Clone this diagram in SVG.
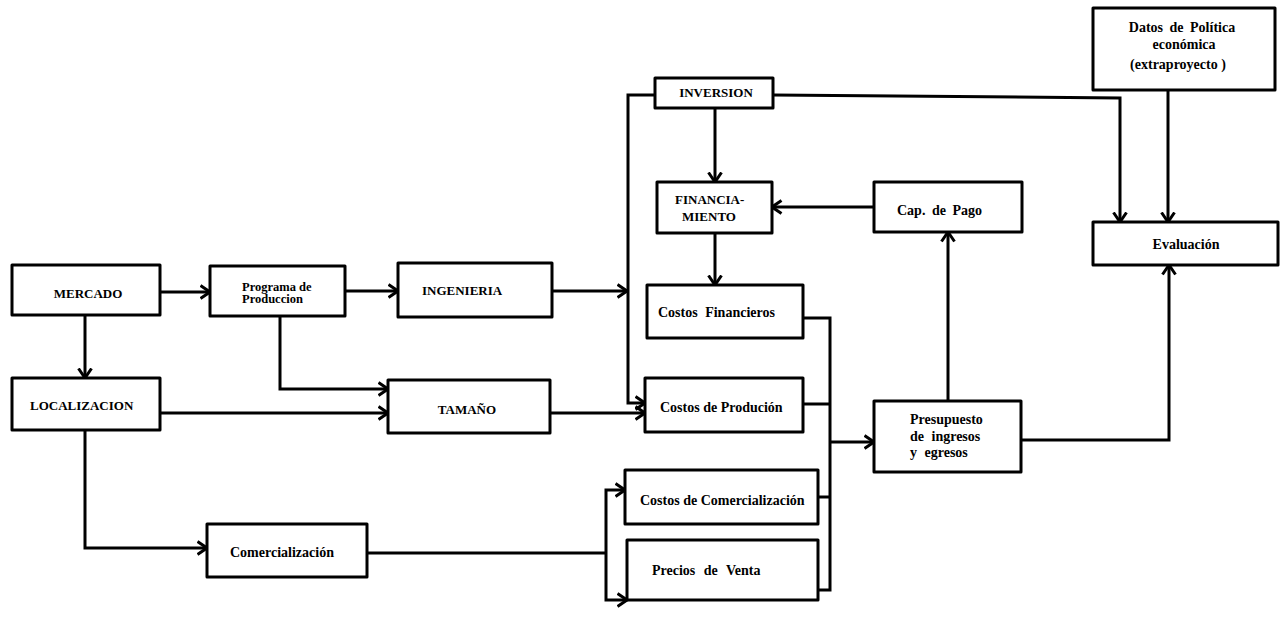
<svg xmlns="http://www.w3.org/2000/svg" width="1281" height="618" viewBox="0 0 1281 618">
<style>
.box{fill:#fff;stroke:#000;stroke-width:3;stroke-linejoin:round}
.ln{fill:none;stroke:#000;stroke-width:3;stroke-linejoin:miter}
.ar{marker-end:url(#a)}
text{font-family:"Liberation Serif","DejaVu Serif",serif;font-weight:bold;fill:#000;font-size:14px}
.up{font-size:13px}
.sm{font-size:12.5px}
</style>
<defs>
<marker id="a" markerUnits="userSpaceOnUse" viewBox="0 0 12 16" refX="10.5" refY="8" markerWidth="12" markerHeight="16" orient="auto">
<path d="M1,1.5 L10.5,8 L1,14.5" fill="none" stroke="#000" stroke-width="3"/>
</marker>
</defs>
<rect width="1281" height="618" fill="#fff"/>
<g id="connectors">
<path class="ln ar" d="M160,292 H210"/>
<path class="ln ar" d="M345,291 H398"/>
<path class="ln ar" d="M85,315 V378"/>
<path class="ln ar" d="M280,316 V389 H388"/>
<path class="ln ar" d="M160,413 H388"/>
<path class="ln ar" d="M552,291 H627"/>
<path class="ln ar" d="M655,95 H628 V403 H645"/>
<path class="ln ar" d="M550,413 H645"/>
<path class="ln ar" d="M715,108 V182"/>
<path class="ln ar" d="M874,207 H772"/>
<path class="ln ar" d="M715,233 V285"/>
<path class="ln" d="M803,318 H830 V590 H818"/>
<path class="ln" d="M803,404 H830"/>
<path class="ln" d="M818,497 H830"/>
<path class="ln ar" d="M830,442 H874"/>
<path class="ln ar" d="M948,401 V232"/>
<path class="ln ar" d="M1021,440 H1169 V265"/>
<path class="ln ar" d="M773,95 L1120,98 V222"/>
<path class="ln ar" d="M1168,90 V222"/>
<path class="ln ar" d="M85,430 V548 H207"/>
<path class="ln" d="M367,553 H606"/>
<path class="ln ar" d="M606,553 V490 H625"/>
<path class="ln ar" d="M606,553 V600 H627"/>
</g>
<g id="mercado"><rect class="box" x="12" y="265" width="148" height="50"/><text class="up" x="88" y="298" text-anchor="middle">MERCADO</text></g>
<g id="programa"><rect class="box" x="210" y="266" width="135" height="50"/><text class="sm" x="242" y="291">Programa de</text><text class="sm" x="242" y="303">Produccion</text></g>
<g id="ingenieria"><rect class="box" x="398" y="263" width="154" height="54"/><text class="up" x="422" y="295">INGENIERIA</text></g>
<g id="localizacion"><rect class="box" x="12" y="378" width="148" height="52"/><text class="up" x="30" y="410">LOCALIZACION</text></g>
<g id="tamano"><rect class="box" x="388" y="380" width="162" height="53"/><text class="up" x="467" y="414" text-anchor="middle">TAMAÑO</text></g>
<g id="comercializacion"><rect class="box" x="207" y="524" width="160" height="53"/><text x="230" y="557">Comercialización</text></g>
<g id="inversion"><rect class="box" x="655" y="78" width="118" height="30"/><text class="up" x="716" y="97" text-anchor="middle">INVERSION</text></g>
<g id="financiamiento"><rect class="box" x="657" y="182" width="115" height="51"/><text class="up" x="675" y="204">FINANCIA-</text><text class="up" x="682" y="221">MIENTO</text></g>
<g id="costos-financieros"><rect class="box" x="647" y="285" width="156" height="53"/><text x="658" y="317" word-spacing="4">Costos Financieros</text></g>
<g id="costos-produccion"><rect class="box" x="645" y="378" width="158" height="54"/><text x="660" y="412">Costos de Produción</text></g>
<g id="costos-comercializacion"><rect class="box" x="625" y="470" width="193" height="54"/><text x="640" y="505">Costos de Comercialización</text></g>
<g id="precios-venta"><rect class="box" x="627" y="540" width="191" height="60"/><text x="652" y="575" word-spacing="5">Precios de Venta</text></g>
<g id="cap-pago"><rect class="box" x="874" y="182" width="148" height="50"/><text x="897" y="215" word-spacing="3">Cap. de Pago</text></g>
<g id="presupuesto"><rect class="box" x="874" y="401" width="147" height="71"/><text x="910" y="424">Presupuesto</text><text x="910" y="441" word-spacing="4">de ingresos</text><text x="910" y="457" word-spacing="4">y egresos</text></g>
<g id="datos"><rect class="box" x="1093" y="8" width="182" height="82"/><text x="1182" y="32" text-anchor="middle" word-spacing="3">Datos de Política</text><text x="1184" y="49" text-anchor="middle">económica</text><text x="1178" y="69" text-anchor="middle">(extraproyecto )</text></g>
<g id="evaluacion"><rect class="box" x="1093" y="222" width="185" height="43"/><text x="1186" y="249" text-anchor="middle">Evaluación</text></g>
</svg>
